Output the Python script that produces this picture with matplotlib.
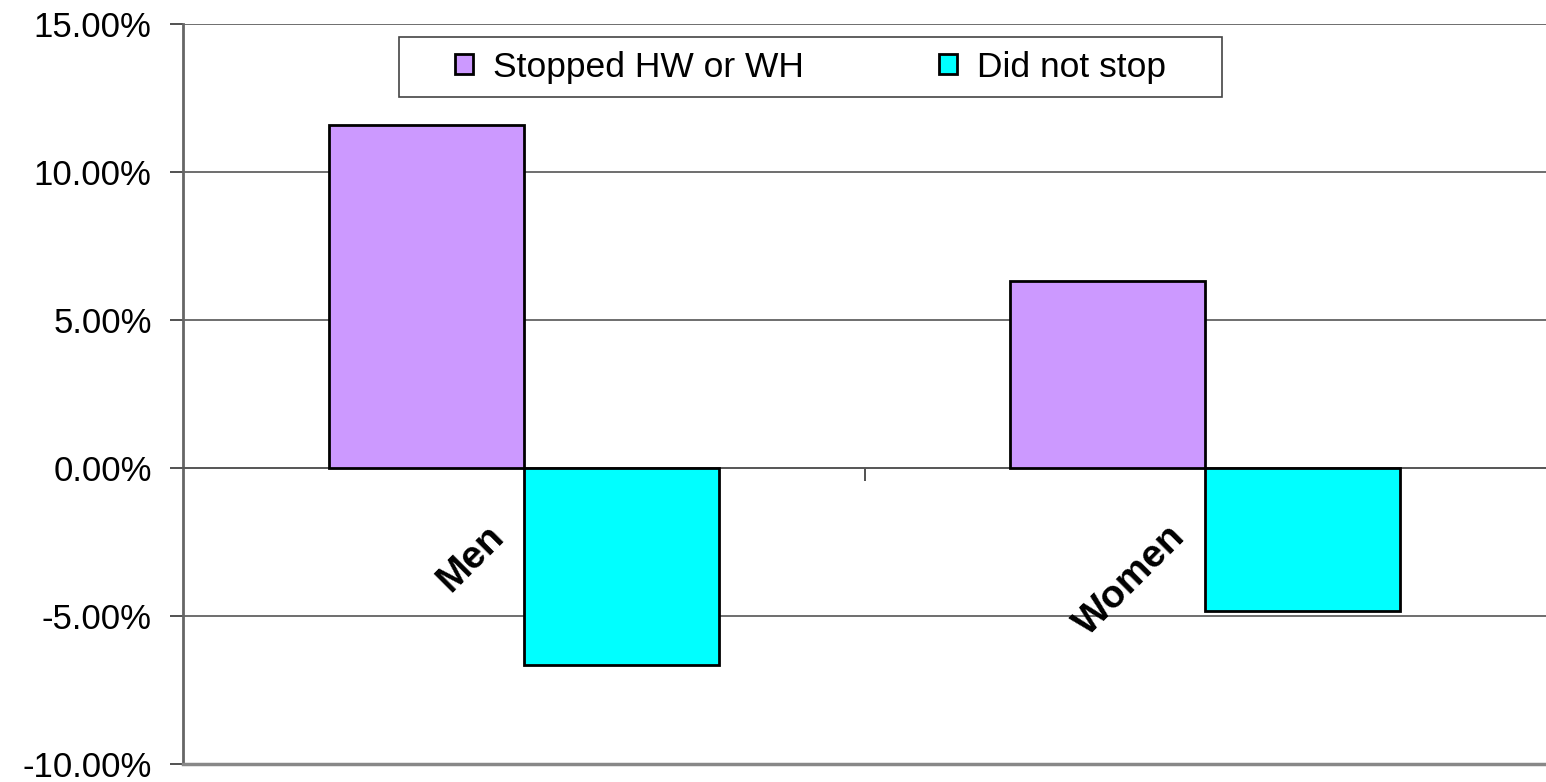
import matplotlib

matplotlib.use("Agg")
import matplotlib.pyplot as plt
import numpy as np
from matplotlib.patches import Rectangle
from matplotlib.transforms import ScaledTranslation

plt.rcParams["font.family"] = ["Liberation Sans", "DejaVu Sans"]

# Data (percent change)
categories = ["Men", "Women"]
series_names = ["Stopped HW or WH", "Did not stop"]
stopped = [11.59, 6.32]
did_not_stop = [-6.66, -4.83]
y_ticks = [-10, -5, 0, 5, 10, 15]

COLORS = ["#CC99FF", "#00FFFF"]
BAR_W = 0.286

fig = plt.figure(figsize=(15.46, 7.82), dpi=100)
ax = fig.add_axes([183 / 1546, 18 / 782, 1 - 183 / 1546, 740 / 782])

x = np.arange(len(categories))
for k, (vals, name, color) in enumerate(zip([stopped, did_not_stop], series_names, COLORS)):
    offset = (k - 0.5) * BAR_W
    ax.bar(x + offset, vals, width=BAR_W, color=color, edgecolor="black",
           linewidth=2, label=name, zorder=3)

ax.set_xlim(-0.5, len(categories) - 0.5)
ax.set_ylim(y_ticks[0], y_ticks[-1])
ax.set_yticks(y_ticks)
ax.set_yticklabels([f"{v:.2f}%" for v in y_ticks], fontsize=25)
ax.tick_params(axis="y", direction="out", length=9.5, width=1.2, color="#333333", pad=13)
ax.yaxis.grid(True, color="#555555", linewidth=1.2, zorder=0)
ax.set_axisbelow(True)

# category axis sits on the zero line, ticks between categories
ax.spines["bottom"].set_position(("data", 0))
ax.spines["bottom"].set_color("#555555")
ax.spines["bottom"].set_linewidth(1.2)
ax.set_xticks(x[:-1] + 0.5)
ax.set_xticklabels([])
ax.tick_params(axis="x", direction="out", length=9, width=1.2, color="#333333")
ax.spines["top"].set_visible(False)
ax.spines["right"].set_visible(False)
ax.spines["left"].set_color("#666666")
ax.spines["left"].set_linewidth(2)
ax.axhline(y_ticks[0], color="#888888", linewidth=2.5, zorder=4, clip_on=False)

shift = ScaledTranslation(-13 / 100, -50 / 100, fig.dpi_scale_trans)
for xi, cat in zip(x, categories):
    ax.text(xi, 0, cat, rotation=45, ha="right", va="top", fontsize=28,
            fontweight="bold", transform=ax.transData + shift, zorder=5)

leg = ax.legend(loc="center", bbox_to_anchor=(810.5 / 1546, 1 - 67 / 782),
                bbox_transform=fig.transFigure, ncol=2, fontsize=25.5, frameon=False,
                borderpad=0, handlelength=0.51, handleheight=0.51,
                handletextpad=0.56, columnspacing=3.8)
for h in leg.legend_handles:
    h.set_linewidth(2)
leg.set_zorder(7)

# legend frame: Excel-style box with wider side padding than top/bottom
fig.canvas.draw()
bb = leg.get_window_extent()
pad_x, box_h = 56, 60
pad_y = (box_h - bb.height) / 2
inv = fig.transFigure.inverted()
(x0, y0), (x1, y1) = inv.transform([(bb.x0 - pad_x, bb.y0 - pad_y),
                                    (bb.x1 + pad_x, bb.y1 + pad_y)])
ax.add_patch(Rectangle((x0, y0), x1 - x0, y1 - y0, transform=fig.transFigure,
                       facecolor="white", edgecolor="#444444", linewidth=1.2,
                       zorder=6, clip_on=False))

fig.savefig("out.png", dpi=100)
